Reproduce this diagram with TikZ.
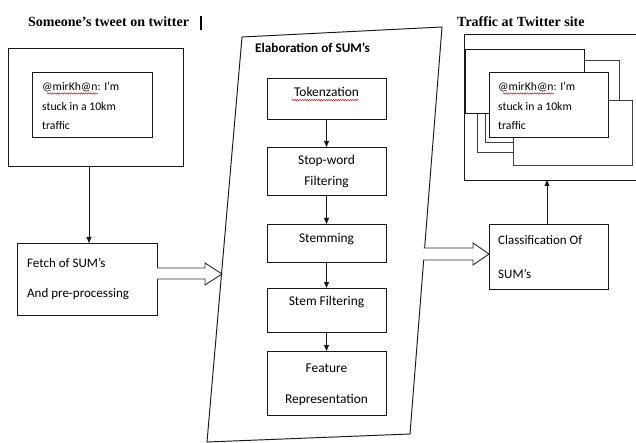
\documentclass[tikz,border=0pt]{standalone}
\usepackage{fontspec}
\setmainfont{Liberation Serif}
\newfontfamily\calfont{Carlito}
\usetikzlibrary{arrows.meta,calc,fit,decorations.pathmorphing}
\begin{document}
\begin{tikzpicture}[x=1pt,y=-1pt,
  line/.style={draw=black!90, line width=0.95pt},
  box/.style={line, fill=white, inner sep=0pt, outer sep=0pt},
  backbox/.style={draw=black!75, line width=1pt, fill=white, inner sep=0pt, outer sep=0pt},
  arr/.style={line, -{Triangle[length=6pt,width=5pt]}},
  hollow/.style={draw=black!80, line width=0.95pt, fill=white, line join=miter},
  title/.style={font=\fontsize{14}{16}\selectfont\bfseries, inner sep=0pt, anchor=base west},
  tweet/.style={font=\calfont\fontsize{11.7}{14}\selectfont, inner sep=0pt, anchor=base west},
  body/.style={font=\calfont\fontsize{13}{15}\selectfont, inner sep=0pt, anchor=base west},
  mid/.style={font=\calfont\fontsize{13.4}{15}\selectfont, inner sep=0pt, anchor=base},
  squig/.style={draw=red!85!black, line width=0.45pt, decorate, decoration={snake, amplitude=0.7pt, segment length=2.4pt}}
]
\clip (0,0) rectangle (636,443);
\fill[white] (0,0) rectangle (636,443);

% ---------- left part ----------
\node[title] (ltitle) at (28,27) {Someone’s tweet on twitter};
\draw[line width=1.2pt] (201,16) -- (201,30);

\node[box, fit={(8,48) (183,166)}] (lout) {};
\node[box, fit={(32,72) (152,137)}] (lin) {};
\node[tweet] (lt1) at (42,91) {@mirKh@n: I’m};
\node[tweet] (lt2) at (42,111) {stuck in a 10km};
\node[tweet] (lt3) at (42,130) {traffic};
\draw[squig] (47,93.5) -- (98,93.5);

\node[box, fit={(17,243) (157,315)}] (fetch) {};
\node[body] (f1) at (27,267) {Fetch of SUM’s};
\node[body] (f2) at (27,297) {And pre-processing};
\draw[arr] (lout.south -| 89,0) -- (fetch.north -| 89,0);

% ---------- middle part ----------
\coordinate (P1) at (242,37);
\coordinate (P2) at (442,27);
\coordinate (P3) at (410,434);
\coordinate (P4) at (207,442);
\draw[line, fill=white] (P1) -- (P2) -- (P3) -- (P4) -- cycle;
\node[font=\calfont\fontsize{13.2}{15}\selectfont\bfseries, inner sep=0pt, anchor=base west] (etitle) at (255,53) {Elaboration of SUM’s};

\node[box, fit={(267,78) (386,119)}] (tok) {};
\node[box, fit={(267,147) (386,195)}] (stop) {};
\node[box, fit={(267,224) (386,262)}] (stem) {};
\node[box, fit={(267,288) (386,332)}] (stemf) {};
\node[box, fit={(267,351) (386,415)}] (feat) {};

\node[mid] (tokt) at (326.5,97) {Tokenzation};
\draw[squig] (292,100) -- (359,100);
\node[mid] (stopt1) at (326.5,165) {Stop-word};
\node[mid] (stopt2) at (326.5,186) {Filtering};
\node[mid] (stemt) at (326.5,243) {Stemming};
\node[mid] (stemft) at (326.5,305) {Stem Filtering};
\node[mid] (featt1) at (326.5,372) {Feature};
\node[mid] (featt2) at (326.5,403) {Representation};

\draw[arr] (tok.south) -- (stop.north);
\draw[arr] (stop.south) -- (stem.north);
\draw[arr] (stem.south) -- (stemf.north);
\draw[arr] (stemf.south) -- (feat.north);

% hollow arrow fetch -> elaboration
\coordinate (ltip) at (222,274);
\draw[hollow] (fetch.east |- 0,268) -- (205,268) -- (205,263) -- (ltip) -- (205,285) -- (205,279) -- (fetch.east |- 0,279);

% ---------- right part ----------
\node[title] (rtitle) at (457,27) {Traffic at Twitter site};
\node[box, fit={(464,34) (660,180)}] (rout) {};
\node[backbox] (r2) [fit={(477,61) (619,153)}] {};
\node[backbox] (r3) [fit={(485,70) (580,143)}] {};
\node[box] (r1) [fit={(465,49) (584,113)}] {};
\node[backbox] (r4) [fit={(513,101) (632,166)}] {};
\node[box] (rin) [fit={(489,72) (608,137)}] {};
\node[tweet] (rt1) at (498,91) {@mirKh@n: I’m};
\node[tweet] (rt2) at (498,111) {stuck in a 10km};
\node[tweet] (rt3) at (498,130) {traffic};
\draw[squig] (503,93.5) -- (554,93.5);

\node[box, fit={(489,224) (608,289)}] (cls) {};
\node[body] (c1) at (498,245) {Classification Of};
\node[body] (c2) at (498,278) {SUM’s};
\draw[arr] (cls.north -| 547,0) -- (rout.south -| 547,0);

% hollow arrow elaboration -> classification
\coordinate (rstart) at (423.5,248);
\draw[hollow] (rstart) -- (473,248) -- (473,243) -- (cls.west |- 0,254) -- (473,265) -- (473,260) -- (423,260);
\end{tikzpicture}
\end{document}
